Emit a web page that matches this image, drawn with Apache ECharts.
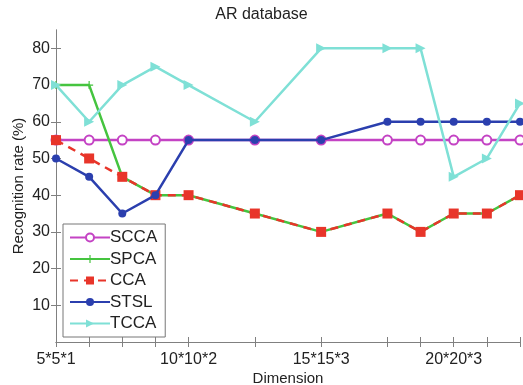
<!DOCTYPE html>
<html>
<head>
<meta charset="utf-8">
<style>
  html, body { margin: 0; padding: 0; background: #fff; }
  #chart { width: 523px; height: 385px; }
</style>
<script src="https://cdn.jsdelivr.net/npm/echarts@6/dist/echarts.min.js"></script>
</head>
<body>
<div id="chart"></div>
<script>
// Positions of the measured dimensions along the x axis
const xPositions = [0, 1, 2, 3, 4, 6, 8, 10, 11, 12, 13, 14];
// Labelled dimensions
const labelPositions = [0, 4, 8, 12];
const labelTexts = ['5*5*1', '10*10*2', '15*15*3', '20*20*3'];
// Y ticks
const yTicks = [10, 20, 30, 40, 50, 60, 70, 80];

// Recognition rates (%)
const scca = [55, 55, 55, 55, 55, 55, 55, 55, 55, 55, 55, 55];
const spca = [70, 70, 45, 40, 40, 35, 30, 35, 30, 35, 35, 40];
const cca  = [55, 50, 45, 40, 40, 35, 30, 35, 30, 35, 35, 40];
const stsl = [50, 45, 35, 40, 55, 55, 55, 60, 60, 60, 60, 60];
const tcca = [70, 60, 70, 75, 70, 60, 80, 80, 80, 45, 50, 65];

const pair = vals => xPositions.map((x, i) => [x, vals[i]]);

const plusPath = 'path://M-0.15,-1 L0.15,-1 L0.15,-0.15 L1,-0.15 L1,0.15 L0.15,0.15 L0.15,1 L-0.15,1 L-0.15,0.15 L-1,0.15 L-1,-0.15 L-0.15,-0.15 Z';

const font = 'Liberation Sans, Arial, Helvetica, sans-serif';
const axisColor = '#808080';
const textColor = '#222';

const chart = echarts.init(document.getElementById('chart'), null, { renderer: 'canvas' });

const boxAxisCommon = {
  axisLine: { show: true, lineStyle: { color: axisColor, width: 1 } },
  splitLine: { show: false }
};
const innerTicks = values => ({
  show: true, inside: true, length: 5, customValues: values, lineStyle: { color: axisColor }
});

chart.setOption({
  animation: false,
  backgroundColor: '#fff',
  title: {
    text: 'AR database',
    left: 'center',
    top: 2,
    textStyle: { fontFamily: font, fontSize: 16, fontWeight: 'normal', color: textColor }
  },
  grid: { left: 56, right: 3, top: 30, bottom: 43, containLabel: false, outerBoundsMode: 'none' },
  legend: {
    orient: 'vertical',
    left: 63,
    top: 224,
    padding: [5, 8, 5, 6],
    itemWidth: 40,
    itemHeight: 10,
    itemGap: 4.5,
    backgroundColor: '#fff',
    borderColor: '#777',
    borderWidth: 1,
    borderRadius: 0,
    textStyle: { fontFamily: font, fontSize: 17, color: textColor, padding: [0, 0, 0, -5] },
    data: ['SCCA', 'SPCA', 'CCA', 'STSL', 'TCCA']
  },
  xAxis: [
    Object.assign({}, boxAxisCommon, {
      type: 'value', min: 0, max: 14, position: 'bottom',
      name: 'Dimension', nameLocation: 'middle', nameGap: 29, nameMoveOverlap: false,
      nameTextStyle: { fontFamily: font, fontSize: 15, color: textColor },
      axisTick: innerTicks(xPositions),
      axisLabel: {
        customValues: labelPositions,
        formatter: v => labelTexts[labelPositions.indexOf(v)] || '',
        fontFamily: font, fontSize: 16, color: textColor, margin: 10
      }
    }),
    Object.assign({}, boxAxisCommon, {
      type: 'value', min: 0, max: 14, position: 'top',
      axisTick: innerTicks(xPositions),
      axisLabel: { show: false }
    })
  ],
  yAxis: [
    Object.assign({}, boxAxisCommon, {
      type: 'value', min: 0, max: 85, position: 'left',
      name: 'Recognition rate (%)', nameLocation: 'middle', nameGap: 30, nameRotate: 90,
      nameMoveOverlap: false,
      nameTextStyle: { fontFamily: font, fontSize: 15, color: textColor },
      axisTick: innerTicks(yTicks),
      axisLabel: { customValues: yTicks, fontFamily: font, fontSize: 16, color: textColor, margin: 6 }
    }),
    Object.assign({}, boxAxisCommon, {
      type: 'value', min: 0, max: 85, position: 'right',
      axisTick: innerTicks(yTicks),
      axisLabel: { show: false }
    })
  ],
  series: [
    {
      name: 'SCCA', type: 'line', data: pair(scca), z: 2,
      symbol: 'emptyCircle', symbolSize: 9, showAllSymbol: true,
      itemStyle: { color: '#c443c4', borderWidth: 1.5 },
      lineStyle: { color: '#c443c4', width: 2.5 }
    },
    {
      name: 'SPCA', type: 'line', data: pair(spca), z: 3,
      symbol: plusPath, symbolSize: 8,
      itemStyle: { color: '#45c43f' },
      lineStyle: { color: '#45c43f', width: 2.5 }
    },
    {
      name: 'CCA', type: 'line', data: pair(cca), z: 4,
      symbol: 'rect', symbolSize: 10,
      itemStyle: { color: '#e8352a' },
      lineStyle: { color: '#e8352a', width: 2.5, type: [8, 6] }
    },
    {
      name: 'STSL', type: 'line', data: pair(stsl), z: 5,
      symbol: 'circle', symbolSize: 8,
      itemStyle: { color: '#2b3fae' },
      lineStyle: { color: '#2b3fae', width: 2.5 }
    },
    {
      name: 'TCCA', type: 'line', data: pair(tcca), z: 6,
      symbol: 'triangle', symbolSize: 10, symbolRotate: -90,
      itemStyle: { color: '#7fe0d6' },
      lineStyle: { color: '#7fe0d6', width: 2.5 }
    }
  ]
});
</script>
</body>
</html>
